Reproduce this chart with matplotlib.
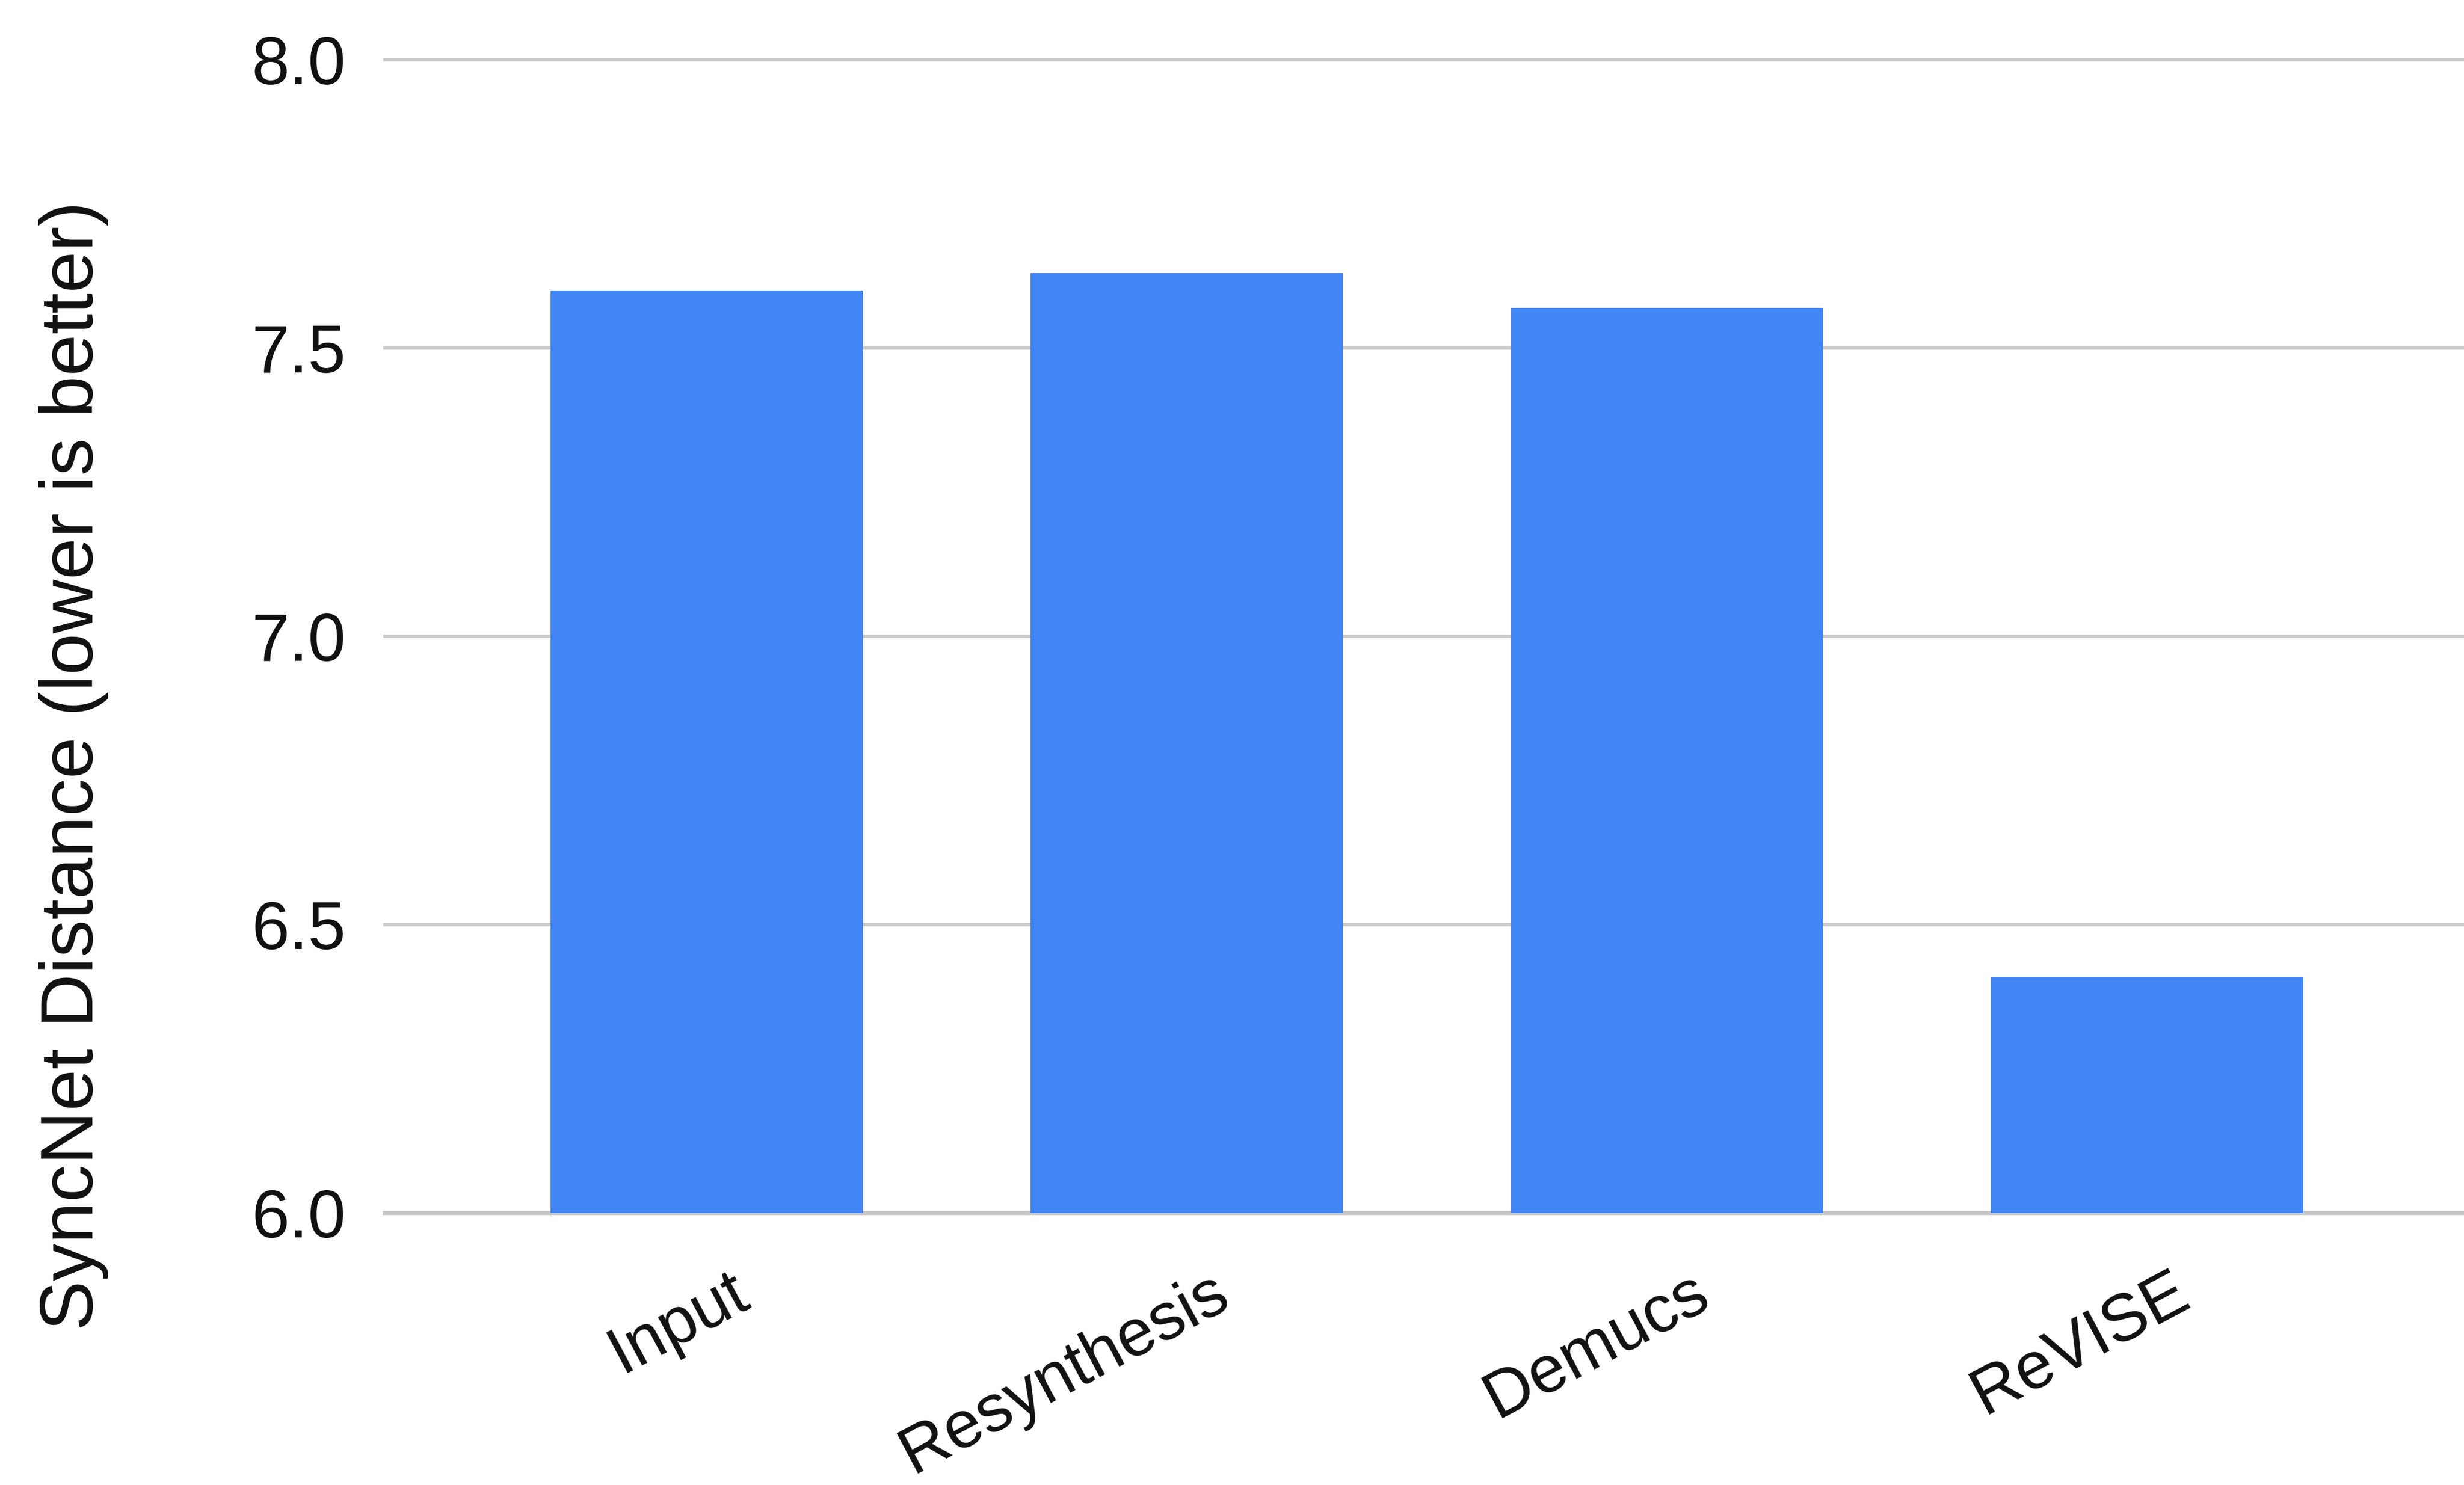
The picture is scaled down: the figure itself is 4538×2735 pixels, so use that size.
import matplotlib
matplotlib.use("Agg")
import matplotlib.pyplot as plt
import matplotlib.transforms as mtransforms
import numpy as np

# Data
methods = ["Input", "Resynthesis", "Demucs", "ReVISE"]
syncnet_dist = [7.60, 7.63, 7.57, 6.41]
y_ticks = [6.0, 6.5, 7.0, 7.5, 8.0]

BAR_BLUE = "#4285f4"
GRID_GRAY = "#cccccc"
TEXT_COLOR = "#111111"
FONT_FAMILY = ["Liberation Sans", "DejaVu Sans"]

W, H, DPI = 4538, 2735, 100

plt.rcParams["font.family"] = FONT_FAMILY

fig = plt.figure(figsize=(W / DPI, H / DPI), dpi=DPI)
fig.patch.set_facecolor("white")

# axes placed in pixel terms: left edge of gridlines, baseline and top line
left_px, right_px = 709, W
bottom_px, top_px = 2234, 110
ax = fig.add_axes([left_px / W, (H - bottom_px) / H,
                   (right_px - left_px) / W, (bottom_px - top_px) / H])
ax.set_facecolor("white")

x = np.arange(len(methods))
ax.bar(x, syncnet_dist, width=0.65, color=BAR_BLUE, zorder=3)

ax.set_xlim(-0.67, 3.66)
ax.set_ylim(6.0, 8.0)

# Gridlines
ax.set_yticks(y_ticks)
ax.set_yticklabels([f"{v:.1f}" for v in y_ticks], fontsize=90, color=TEXT_COLOR)
ax.grid(axis="y", color=GRID_GRAY, linewidth=4.5, zorder=0)
ax.set_axisbelow(True)
for gl in ax.get_ygridlines():
    gl.set_clip_on(False)
ax.axhline(6.0, color="#c4c4c4", linewidth=5.5, zorder=2, clip_on=False)
ax.tick_params(axis="y", length=0, pad=52)

# Category labels, rotated and anchored at their upper right corner
ax.set_xticks(x)
ax.set_xticklabels(methods, fontsize=88, color=TEXT_COLOR, rotation=28,
                   ha="right", va="top", rotation_mode="anchor")
ax.tick_params(axis="x", length=0, pad=64)
shift = mtransforms.ScaledTranslation(0.42, 0, fig.dpi_scale_trans)
for lbl in ax.get_xticklabels():
    lbl.set_transform(lbl.get_transform() + shift)

for side in ["top", "right", "left", "bottom"]:
    ax.spines[side].set_visible(False)

fig.text(136 / W, 1 - 1410 / H, "SyncNet Distance (lower is better)",
         rotation=90, ha="center", va="center", fontsize=99, color=TEXT_COLOR)

fig.savefig("out.png", dpi=DPI, facecolor="white")
plt.close(fig)
